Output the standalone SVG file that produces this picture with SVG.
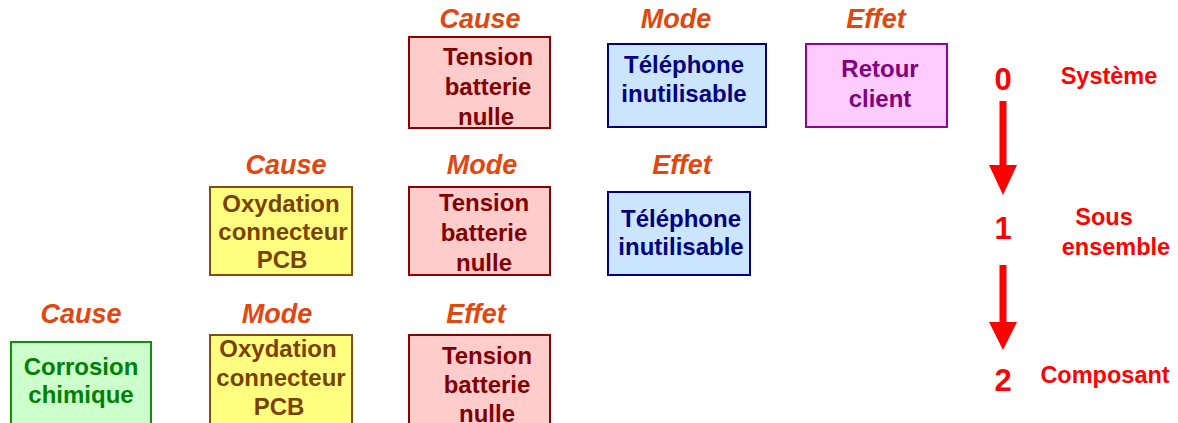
<svg xmlns="http://www.w3.org/2000/svg" width="1178" height="423" viewBox="0 0 1178 423">
  <style>
    .lbl { font-family: "Liberation Sans", Arial, sans-serif; font-weight: bold; font-style: italic; font-size: 27px; fill: #E2470F; text-anchor: middle; }
    .txt { font-family: "Liberation Sans", Arial, sans-serif; font-weight: bold; font-size: 24px; text-anchor: middle; }
    .lvl { font-family: "Liberation Sans", Arial, sans-serif; font-weight: bold; fill: #FF0000; text-anchor: middle; }
    .num { font-size: 31px; }
    .lvtxt { font-size: 23.5px; }
    .box { stroke-width: 2; }
    .tension rect { fill: #FFCCCC; stroke: #8B0000; }
    .tension text { fill: #800000; }
    .tel rect { fill: #CCE5FF; stroke: #000080; }
    .tel text { fill: #000080; }
    .retour rect { fill: #FFCCFF; stroke: #990099; }
    .retour text { fill: #800080; }
    .oxy rect { fill: #FFFF80; stroke: #8B4A10; }
    .oxy text { fill: #7A4200; }
    .corr rect { fill: #CCFFCC; stroke: #009900; }
    .corr text { fill: #008000; }
    .shaft { stroke: #FF0000; stroke-width: 7; }
    .head { fill: #FF0000; }
  </style>

  <!-- column headings -->
  <g id="headings">
    <text class="lbl" x="480" y="28">Cause</text>
    <text class="lbl" x="676" y="28">Mode</text>
    <text class="lbl" x="876" y="28">Effet</text>
    <text class="lbl" x="286" y="174">Cause</text>
    <text class="lbl" x="482" y="174">Mode</text>
    <text class="lbl" x="682" y="174">Effet</text>
    <text class="lbl" x="81" y="323">Cause</text>
    <text class="lbl" x="277" y="323">Mode</text>
    <text class="lbl" x="476" y="323">Effet</text>
  </g>

  <!-- level 0: system -->
  <g id="n0-cause" class="box tension">
    <rect x="409" y="37" width="141" height="91"/>
    <text class="txt" x="488" y="65">Tension</text>
    <text class="txt" x="488" y="95">batterie</text>
    <text class="txt" x="486" y="125">nulle</text>
  </g>
  <g id="n0-mode" class="box tel">
    <rect x="608" y="44" width="158" height="83"/>
    <text class="txt" x="684" y="73">Téléphone</text>
    <text class="txt" x="684" y="102">inutilisable</text>
  </g>
  <g id="n0-effet" class="box retour">
    <rect x="806" y="44" width="141" height="83"/>
    <text class="txt" x="880" y="77">Retour</text>
    <text class="txt" x="880" y="107">client</text>
  </g>

  <!-- level 1: sub-assembly -->
  <g id="n1-cause" class="box oxy">
    <rect x="210" y="187" width="142" height="88"/>
    <text class="txt" x="281" y="212">Oxydation</text>
    <text class="txt" x="283" y="240">connecteur</text>
    <text class="txt" x="282" y="268">PCB</text>
  </g>
  <g id="n1-mode" class="box tension">
    <rect x="409" y="187" width="141" height="88"/>
    <text class="txt" x="484" y="211">Tension</text>
    <text class="txt" x="484" y="241">batterie</text>
    <text class="txt" x="484" y="271">nulle</text>
  </g>
  <g id="n1-effet" class="box tel">
    <rect x="608" y="192" width="142" height="83"/>
    <text class="txt" x="681" y="227">Téléphone</text>
    <text class="txt" x="681" y="255">inutilisable</text>
  </g>

  <!-- level 2: component -->
  <g id="n2-cause" class="box corr">
    <rect x="11" y="342" width="140" height="90"/>
    <text class="txt" x="81" y="375">Corrosion</text>
    <text class="txt" x="81" y="403">chimique</text>
  </g>
  <g id="n2-mode" class="box oxy">
    <rect x="210" y="335" width="142" height="97"/>
    <text class="txt" x="278" y="357">Oxydation</text>
    <text class="txt" x="281" y="386">connecteur</text>
    <text class="txt" x="279" y="415">PCB</text>
  </g>
  <g id="n2-effet" class="box tension">
    <rect x="409" y="335" width="141" height="97"/>
    <text class="txt" x="487" y="364">Tension</text>
    <text class="txt" x="487" y="393">batterie</text>
    <text class="txt" x="487" y="422">nulle</text>
  </g>

  <!-- level scale -->
  <g id="levels">
    <text class="lvl num" x="1003" y="90">0</text>
    <text class="lvl num" x="1003" y="239">1</text>
    <text class="lvl num" x="1003" y="391">2</text>
    <text class="lvl lvtxt" x="1109" y="84">Système</text>
    <text class="lvl lvtxt" x="1104" y="225">Sous</text>
    <text class="lvl lvtxt" x="1116" y="255">ensemble</text>
    <text class="lvl lvtxt" x="1105" y="383">Composant</text>
  </g>

  <!-- connectors -->
  <g id="connectors">
    <line class="shaft" x1="1003" y1="101" x2="1003" y2="166"/>
    <polygon class="head" points="989,165 1017,165 1003,195"/>
    <line class="shaft" x1="1003" y1="265" x2="1003" y2="323"/>
    <polygon class="head" points="989,322 1017,322 1003,350"/>
  </g>
</svg>
